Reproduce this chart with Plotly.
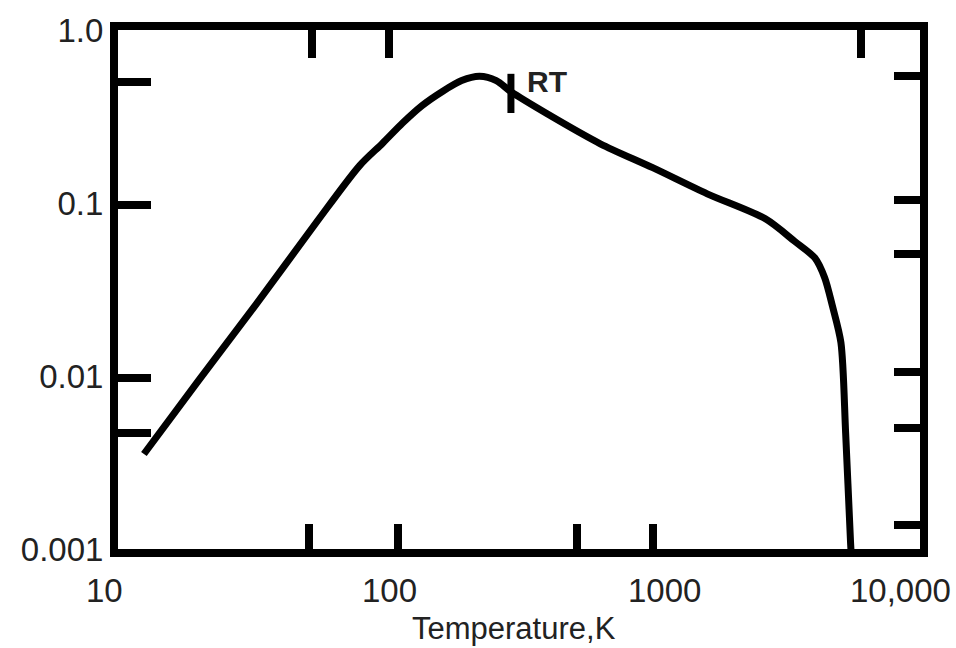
import math
import plotly.graph_objects as go

# ---- data ----
temperature_K = [12.5, 20, 33, 55, 80, 97.5, 116, 137, 163, 193, 225, 260, 295,
                 400, 637, 1000, 1600, 2640, 3400, 4050, 4400, 4700, 5060, 5270, 5500, 5560]
value = [0.00354, 0.0094, 0.0262, 0.0766, 0.164, 0.221, 0.29, 0.365, 0.44, 0.51,
         0.54, 0.51, 0.44, 0.33, 0.22, 0.16, 0.113, 0.081, 0.060, 0.048,
         0.037, 0.0255, 0.0156, 0.0047, 0.00108, 0.0008]

rt_T = [295]
rt_value = [0.43]
rt_label = "RT"

x_label_vals = [10, 100, 1000, 10000]
x_label_text = ["10", "100", "1000", "10,000"]
y_label_vals = [1.0, 0.1, 0.01, 0.001]
y_label_text = ["1.0", "0.1", "0.01", "0.001"]

bottom_tick_vals = [52, 112, 520, 1000]
top_tick_vals = [53, 103, 6000]
left_tick_vals = [0.5, 0.098, 0.0097, 0.0047]
right_tick_vals = [0.54, 0.104, 0.051, 0.0106, 0.005, 0.00138]

x_title = "Temperature,K"

# ---- styling ----
FONT = "Liberation Sans, Arial, sans-serif"
label_dx = [-14, 4, 12, -20]

fig = go.Figure()
fig.add_trace(go.Scatter(x=temperature_K, y=value, mode="lines",
                         line=dict(color="black", width=7, shape="spline", smoothing=0.8),
                         hoverinfo="skip", showlegend=False))
fig.add_trace(go.Scatter(x=rt_T, y=rt_value, mode="markers",
                         marker=dict(symbol="line-ns", size=28,
                                     line=dict(color="black", width=7)),
                         hoverinfo="skip", showlegend=False))
# invisible anchors so that the tick-only overlay axes get drawn
for xa, ya in [("x2", "y"), ("x3", "y"), ("x", "y2"), ("x", "y3")]:
    fig.add_trace(go.Scatter(x=[10], y=[0.001], xaxis=xa, yaxis=ya, mode="markers",
                             marker=dict(opacity=0), hoverinfo="skip", showlegend=False))

base_x = dict(type="log", range=[1, 4], showgrid=False, zeroline=False)
base_y = dict(type="log", range=[-3, 0], showgrid=False, zeroline=False)

fig.update_layout(
    width=956, height=648,
    margin=dict(l=118, r=36, t=22, b=99),
    paper_bgcolor="white", plot_bgcolor="white",
    xaxis=dict(**base_x, showline=True, linewidth=8, linecolor="black", mirror=True,
               ticks="", showticklabels=False),
    yaxis=dict(**base_y, showline=True, linewidth=8, linecolor="black", mirror=True,
               ticks="", tickvals=y_label_vals, ticktext=y_label_text,
               tickfont=dict(family=FONT, size=33, color="#222")),
    xaxis2=dict(**base_x, overlaying="x", side="bottom", anchor="y",
                tickvals=bottom_tick_vals, ticks="inside", ticklen=25, tickwidth=8,
                tickcolor="black", showticklabels=False, showline=False),
    xaxis3=dict(**base_x, overlaying="x", side="top", anchor="y",
                tickvals=top_tick_vals, ticks="inside", ticklen=28, tickwidth=8,
                tickcolor="black", showticklabels=False, showline=False),
    yaxis2=dict(**base_y, overlaying="y", side="left", anchor="x",
                tickvals=left_tick_vals, ticks="inside", ticklen=33, tickwidth=8,
                tickcolor="black", showticklabels=False, showline=False),
    yaxis3=dict(**base_y, overlaying="y", side="right", anchor="x",
                tickvals=right_tick_vals, ticks="inside", ticklen=26, tickwidth=8,
                tickcolor="black", showticklabels=False, showline=False),
)

for v, t, dx in zip(x_label_vals, x_label_text, label_dx):
    fig.add_annotation(x=math.log10(v), y=0, xref="x", yref="paper", text=t,
                       showarrow=False, xanchor="center", yanchor="middle",
                       xshift=dx, yshift=-41,
                       font=dict(family=FONT, size=33, color="#222"))

fig.add_annotation(x=0.494, y=0, xref="paper", yref="paper", text=x_title,
                   showarrow=False, xanchor="center", yanchor="middle", yshift=-79,
                   font=dict(family=FONT, size=31, color="#222"))

fig.add_annotation(x=math.log10(rt_T[0]), y=math.log10(rt_value[0]), xref="x", yref="y",
                   text="<b>" + rt_label + "</b>", showarrow=False,
                   xanchor="left", yanchor="middle", xshift=14, yshift=12,
                   font=dict(family=FONT, size=30, color="#222"))

fig.write_html("out.html")
